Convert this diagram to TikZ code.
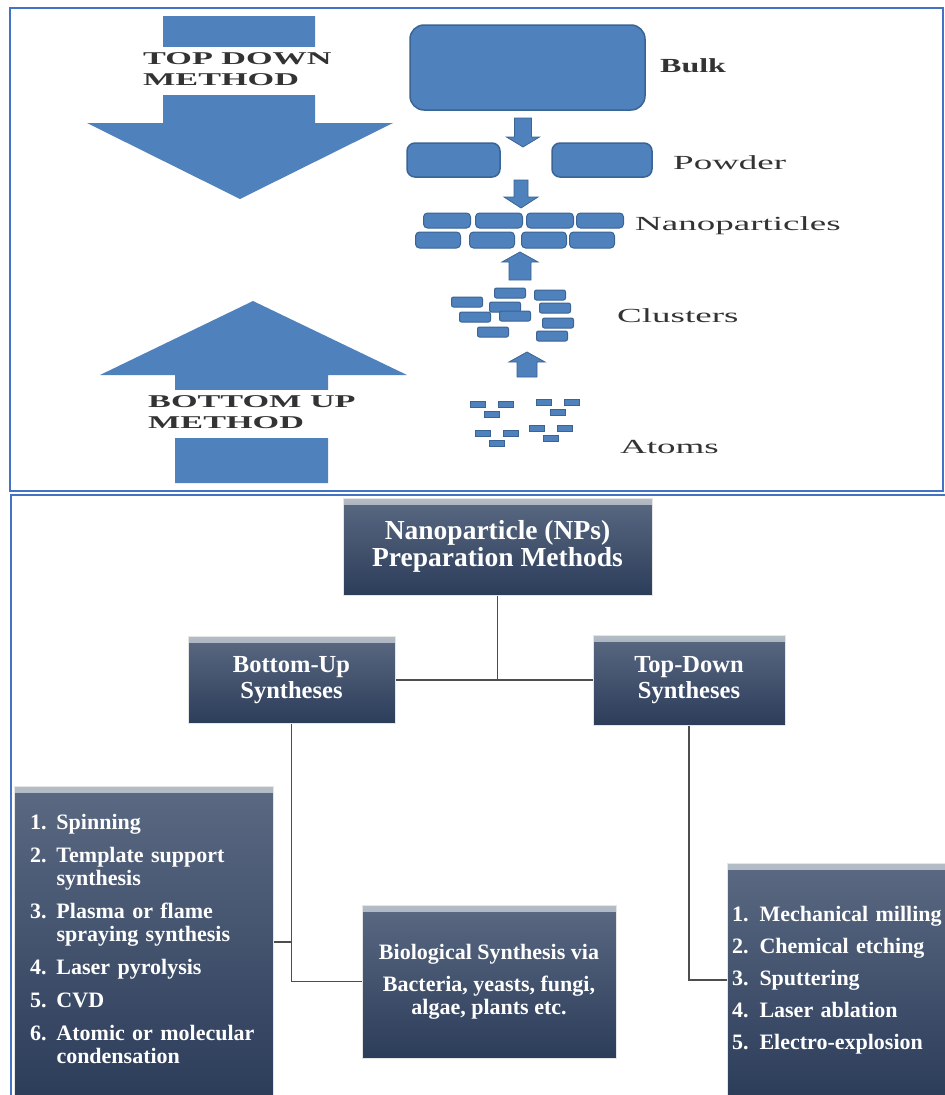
\documentclass[tikz,border=0pt]{standalone}
\usepackage{fontspec}
\setmainfont{Liberation Serif}

\definecolor{panelblue}{HTML}{4472C4}
\definecolor{blockblue}{HTML}{4F81BD}
\definecolor{blockedge}{HTML}{3A6494}
\definecolor{slatetop}{HTML}{5B6982}
\definecolor{slatebot}{HTML}{2C3D5A}
\definecolor{slatehi}{HTML}{B4BCC6}
\definecolor{labelgrey}{HTML}{333333}
\definecolor{linkgrey}{HTML}{4D4D4D}

\tikzset{
	panelframe/.style={draw=panelblue, line width=2pt},
	bigarrow/.style={fill=blockblue},
	blob/.style={fill=blockblue, draw=blockedge, line width=1.5pt, inner sep=0pt},
	stagelabel/.style={text=labelgrey, inner sep=0pt, anchor=west, font=\fontsize{20}{20}\selectfont},
	methodlabel/.style={fill=white, text=labelgrey, inner xsep=2pt, inner ysep=3pt, anchor=north west, font=\fontsize{18}{21}\selectfont\bfseries},
	chartbox/.style={draw=black!10, line width=1pt, top color=slatetop, bottom color=slatebot, text=white, inner sep=0pt,
		path picture={\shade[top color=slatehi, bottom color=slatetop] (path picture bounding box.north west) rectangle ([yshift=-6pt]path picture bounding box.north east);}},
	link/.style={draw=linkgrey, line width=1.3pt},
}

\begin{document}
\begin{tikzpicture}[x=1pt, y=-1pt]
	\clip (0,0) rectangle (945,1095);
	
	% Panels
	\draw[panelframe] (10,8) rectangle (943,491);
	\draw[panelframe] (945,495) -- (11,495) -- (11,1100);
	
	% Big arrows
	\fill[bigarrow] (163,16) -- (315,16) -- (315,123) -- (393,123) -- (240,199) -- (87,123) -- (163,123) -- cycle;
	\fill[bigarrow] (253,301) -- (407,375) -- (328,375) -- (328,483) -- (175,483) -- (175,375) -- (100,375) -- cycle;
	\node[methodlabel] (toplabel) at (141,47) {\scalebox{1.9}[1]{\begin{tabular}{@{}l@{}}TOP DOWN\\METHOD\end{tabular}}};
	\node[methodlabel] (bottomlabel) at (146,390) {\scalebox{1.9}[1]{\begin{tabular}{@{}l@{}}BOTTOM UP\\METHOD\end{tabular}}};
	
	% Bulk and powder
	\node[blob, rounded corners=14pt, minimum width=235pt, minimum height=85pt] (bulk) at (527.5,67.5) {};
	\node[blob, rounded corners=8pt, minimum width=93pt, minimum height=34pt] (powderA) at (453.5,160) {};
	\node[blob, rounded corners=8pt, minimum width=100pt, minimum height=34pt] (powderB) at (602,160) {};
	
	% Nanoparticles
	\foreach \x in {447,499,550,600}
		\node[blob, line width=1pt, rounded corners=4pt, minimum width=47pt, minimum height=15pt] at (\x,220.5) {};
	\foreach \x in {438,492,544,592}
		\node[blob, line width=1pt, rounded corners=4pt, minimum width=45pt, minimum height=16pt] at (\x,240) {};
	
	% Clusters
	\foreach \x/\y in {510/293, 550/295, 467/302, 505/307, 555/308, 475/317, 515/316, 558/323, 493/332, 552/336}
		\node[blob, line width=1pt, rounded corners=2pt, minimum width=31pt, minimum height=10pt] at (\x,\y) {};
	
	% Atoms
	\foreach \cx/\cy in {492/404, 558/402, 497/433, 551/428}{
		\node[blob, line width=0.8pt, minimum width=15pt, minimum height=6pt] at (\cx-14,\cy) {};
		\node[blob, line width=0.8pt, minimum width=15pt, minimum height=6pt] at (\cx+14,\cy) {};
		\node[blob, line width=0.8pt, minimum width=15pt, minimum height=6pt] at (\cx,\cy+10) {};
	}
	
	% Small arrows
	\foreach \cx/\ya/\yb/\yc/\sw/\hw in {523/118/137/147/8.5/16.5, 521/180/197/208/7/17, 520/280/262/252/11/18, 527/377/362/352/10/18}
		\filldraw[fill=blockblue, draw=blockedge, line width=0.8pt] ({\cx-\sw},\ya) -- ({\cx+\sw},\ya) -- ({\cx+\sw},\yb) -- ({\cx+\hw},\yb) -- (\cx,\yc) -- ({\cx-\hw},\yb) -- ({\cx-\sw},\yb) -- cycle;
	
	% Stage labels
	\node[stagelabel] (bulklabel) at (660,66) {\scalebox{1.6}[1]{\bfseries Bulk}};
	\node[stagelabel] (powderlabel) at (673,163) {\scalebox{1.85}[1]{Powder}};
	\node[stagelabel] (nanolabel) at (635,226) {\scalebox{1.85}[1]{Nanoparticles}};
	\node[stagelabel] (clusterlabel) at (617,316) {\scalebox{1.85}[1]{Clusters}};
	\node[stagelabel] (atomlabel) at (620,447) {\scalebox{1.85}[1]{Atoms}};
	
	% Chart
	\node[chartbox, minimum width=309pt, minimum height=97pt, align=center, font=\fontsize{27.5}{27}\selectfont\bfseries] (root) at (497.5,546.5) {Nanoparticle (NPs)\\Preparation Methods};
	\node[chartbox, minimum width=207pt, minimum height=87pt, align=center, font=\fontsize{24.5}{25.5}\selectfont\bfseries] (bottomup) at (291.5,680) {Bottom-Up\\Syntheses};
	\node[chartbox, minimum width=192pt, minimum height=90pt, align=center, font=\fontsize{24.5}{25.5}\selectfont\bfseries] (topdown) at (689,680) {Top-Down\\Syntheses};
	\node[chartbox, minimum width=259pt, minimum height=312pt, text width=227pt, align=left, font=\fontsize{22}{23}\selectfont\bfseries] (bulist) at (143.5,942) {%
		\begin{tabular}{@{}l@{\hspace{10pt}}l@{}}
			1. & Spinning\\[10pt]
			2. & Template support\\
			   & synthesis\\[10pt]
			3. & Plasma or flame\\
			   & spraying synthesis\\[10pt]
			4. & Laser pyrolysis\\[10pt]
			5. & CVD\\[10pt]
			6. & Atomic or molecular\\
			   & condensation
		\end{tabular}};
	\node[chartbox, minimum width=254pt, minimum height=153pt, align=center, font=\fontsize{22}{23}\selectfont\bfseries] (bio) at (489,981.5) {Biological Synthesis via\\[9pt]Bacteria, yeasts, fungi,\\algae, plants etc.};
	\node[chartbox, minimum width=238pt, minimum height=234pt, text width=228pt, align=left, font=\fontsize{22}{23}\selectfont\bfseries] (tdlist) at (846,980) {1. Mechanical milling\\[9pt]2. Chemical etching\\[9pt]3. Sputtering\\[9pt]4. Laser ablation\\[9pt]5. Electro-explosion};
	
	% Links
	\draw[link] (root.south) |- (bottomup.east);
	\draw[link] (root.south) |- (topdown.west);
	\draw[link] (bottomup.south) |- (bulist.east);
	\draw[link] (bottomup.south) |- (bio.west);
	\draw[link] (topdown.south) |- (tdlist.west);
\end{tikzpicture}
\end{document}
